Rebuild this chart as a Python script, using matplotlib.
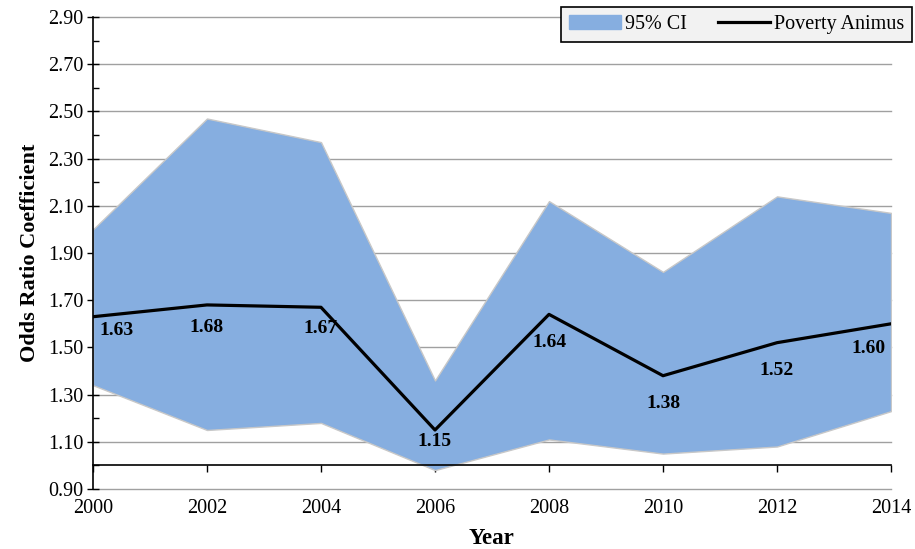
import numpy as np
import matplotlib
matplotlib.use("Agg")
import matplotlib.pyplot as plt
from matplotlib.patches import Patch
from matplotlib.lines import Line2D
from matplotlib.ticker import FixedLocator, FormatStrFormatter

years = [2000, 2002, 2004, 2006, 2008, 2010, 2012, 2014]
animus = [1.63, 1.68, 1.67, 1.15, 1.64, 1.38, 1.52, 1.60]
ci_upper = [2.00, 2.47, 2.37, 1.36, 2.12, 1.82, 2.14, 2.07]
ci_lower = [1.34, 1.15, 1.18, 0.98, 1.11, 1.05, 1.08, 1.23]
y_major = [0.90, 1.10, 1.30, 1.50, 1.70, 1.90, 2.10, 2.30, 2.50, 2.70, 2.90]
y_minor = [1.00, 1.20, 1.40, 1.60, 1.80, 2.00, 2.20, 2.40, 2.60, 2.80]

# label offsets in points (dx, dy) relative to each point
label_offsets = [(17, -10), (0, -16), (0, -15), (0, -8),
                 (0, -20), (0, -20), (0, -20), (-16, -18)]

plt.rcParams['font.family'] = ['Liberation Serif', 'DejaVu Serif']

fig = plt.figure(figsize=(9.15, 5.49), dpi=100)
ax = fig.add_axes([0.1016, 0.1093, 0.8722, 0.8597])

ax.fill_between(years, ci_lower, ci_upper, facecolor='#86AEE0',
                edgecolor='#C8C8C8', linewidth=1.0, zorder=2)
ax.plot(years, animus, color='black', linewidth=2.3, zorder=3)

for x, v, off in zip(years, animus, label_offsets):
    ax.annotate('%.2f' % v, (x, v), xytext=off, textcoords='offset points',
                ha='center', va='center', fontsize=14, fontweight='bold', zorder=4)

ax.set_xlim(2000, 2014)
ax.set_ylim(0.90, 2.90)
ax.set_xticks(years)
ax.yaxis.set_major_locator(FixedLocator(y_major))
ax.yaxis.set_minor_locator(FixedLocator(y_minor))
ax.yaxis.set_major_formatter(FormatStrFormatter('%.2f'))

ax.grid(axis='y', which='major', color='#A0A0A0', linewidth=1.0, zorder=1)
ax.set_axisbelow(True)
for gl in ax.get_ygridlines():
    gl.set_clip_on(False)

for s in ['top', 'right']:
    ax.spines[s].set_visible(False)
ax.spines['bottom'].set_position(('data', 1.0))
ax.spines['bottom'].set_linewidth(1.2)
ax.spines['left'].set_linewidth(1.2)

ax.tick_params(axis='x', direction='out', length=5, width=1.0, pad=19, labelsize=14.5)
ax.tick_params(axis='y', which='major', direction='inout', length=8, width=1.0,
               labelsize=14.5, pad=3)
ax.tick_params(axis='y', which='minor', direction='in', length=4, width=1.0)

ax.set_xlabel('Year', fontsize=16.5, fontweight='bold')
ax.set_ylabel('Odds Ratio Coefficient', fontsize=16, fontweight='bold', labelpad=6)
ax.xaxis.set_label_coords(0.5, -0.082)

handles = [Patch(facecolor='#86AEE0', edgecolor='#86AEE0'),
           Line2D([0], [0], color='black', linewidth=2.3)]
leg = fig.legend(handles, ['95% CI', 'Poverty Animus'], ncol=2,
                 loc='upper right', bbox_to_anchor=(0.997, 0.988),
                 borderaxespad=0, fontsize=14.5, frameon=True, fancybox=False,
                 handlelength=2.6, handletextpad=0.2, columnspacing=1.5,
                 borderpad=0.4)
leg.get_frame().set_facecolor('#F2F2F2')
leg.get_frame().set_edgecolor('black')
leg.get_frame().set_linewidth(1.2)
leg.get_frame().set_alpha(1)

fig.savefig('out.png', dpi=100)
